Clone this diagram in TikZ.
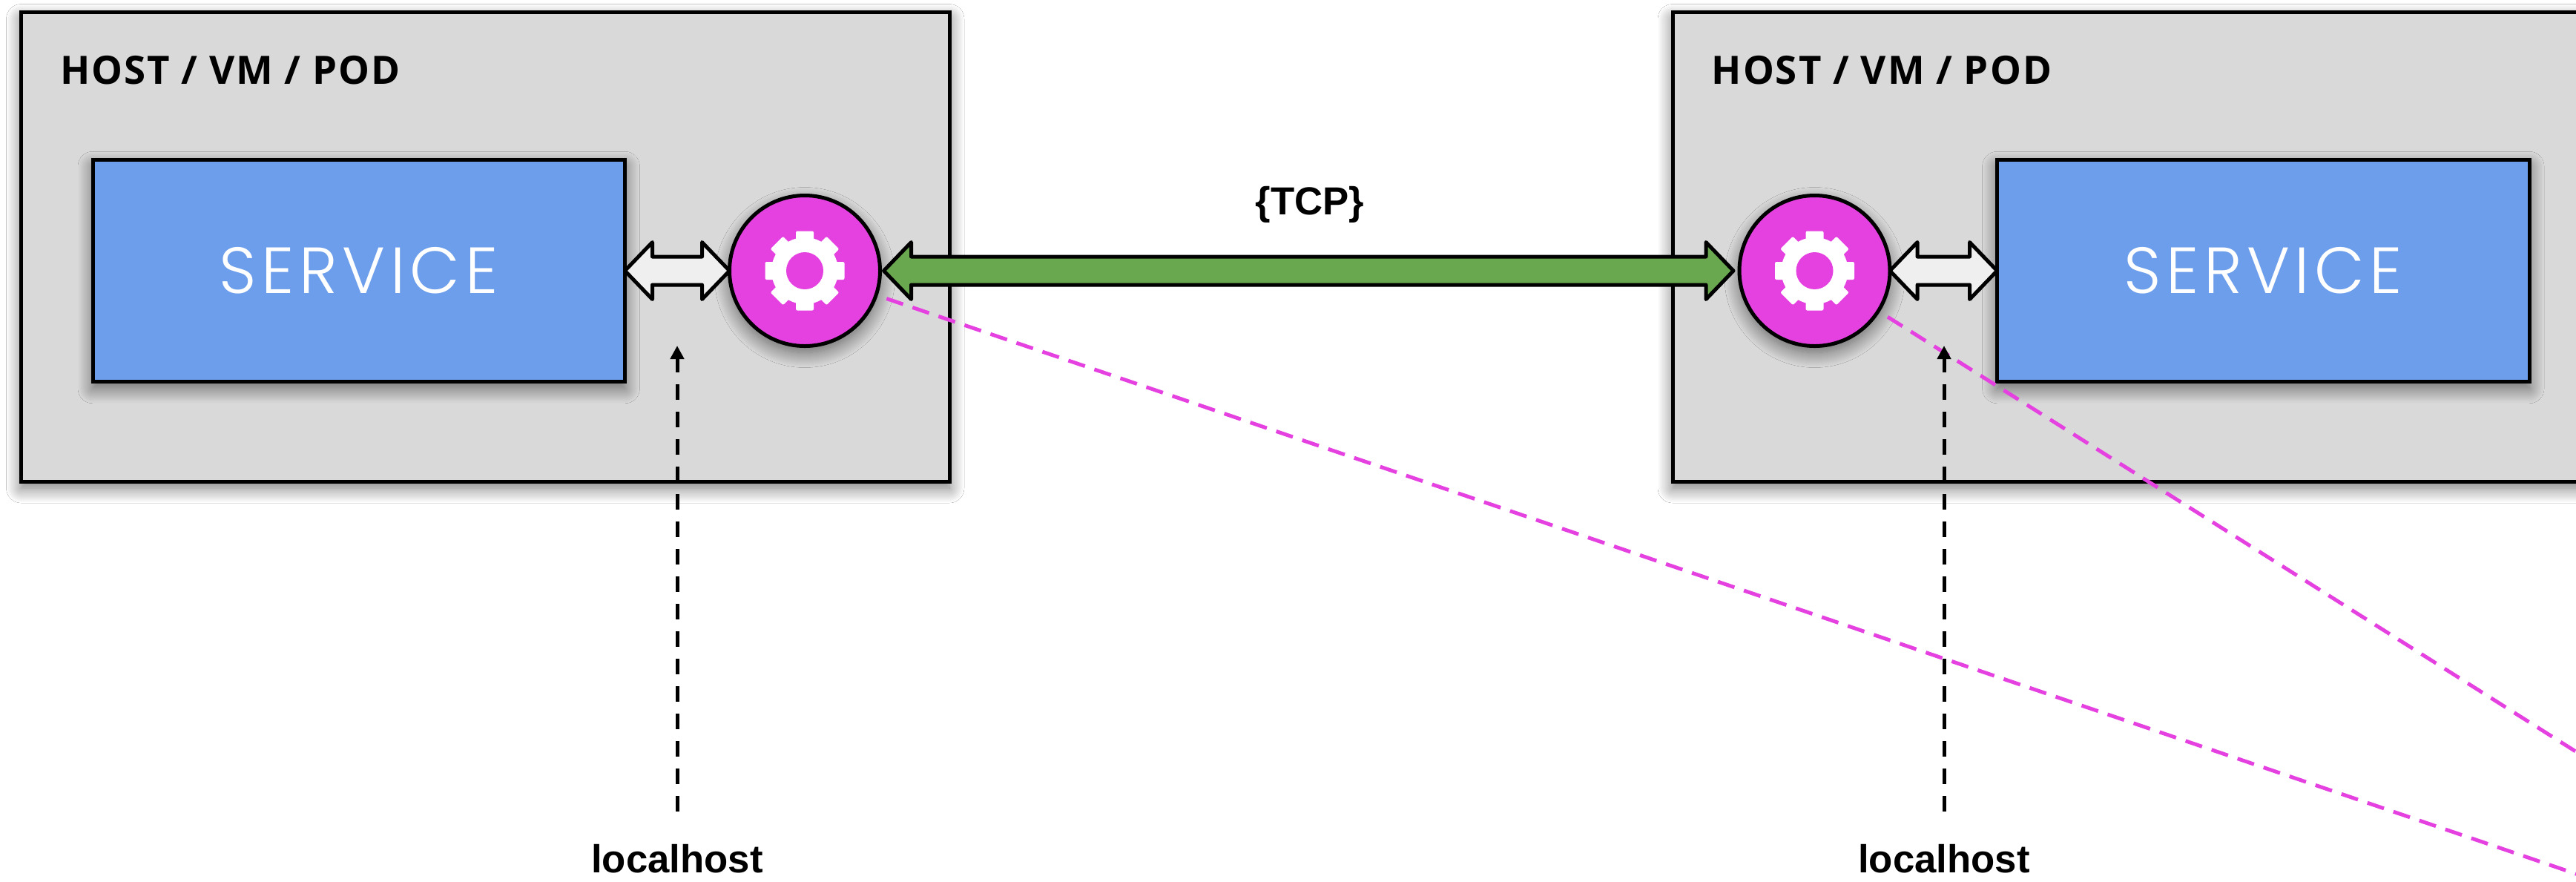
\documentclass[tikz,border=0pt]{standalone}
\usepackage{fontspec}
\setmainfont{Liberation Sans}
\newfontfamily\headfont[LetterSpace=3.8]{Open Sans}
\newfontfamily\thinfont[LetterSpace=7.5]{Poppins Light}
\usetikzlibrary{arrows.meta, positioning, calc, shadows.blur}

\definecolor{hostgray}{HTML}{D9D9D9}
\definecolor{svcblue}{HTML}{6D9EEB}
\definecolor{meshpink}{HTML}{E540E0}
\definecolor{wiregreen}{HTML}{6AA84F}
\definecolor{localwhite}{HTML}{EFEFEF}

\tikzset{
    softshadow/.style={blur shadow={shadow xshift=0cm, shadow yshift=-0.09cm,
        shadow blur radius=0.2cm, shadow opacity=55, shadow blur steps=20}},
    hostbox/.style={draw, line width=0.05cm, fill=hostgray, rectangle, outer sep=0pt,
        minimum width=12.515cm, minimum height=6.325cm, softshadow},
    svcbox/.style={draw, line width=0.05cm, fill=svcblue, rectangle, outer sep=0pt,
        minimum width=7.175cm, minimum height=2.995cm, softshadow,
        text=white, font=\thinfont\fontsize{25}{25}\selectfont},
    proxy/.style={draw, line width=0.05cm, fill=meshpink, circle, outer sep=0pt,
        inner sep=0pt, minimum size=2.03cm, softshadow},
    hostlabel/.style={inner sep=0pt, font=\headfont\bfseries\fontsize{15}{15}\selectfont},
    boldlabel/.style={inner sep=0pt, font=\bfseries\fontsize{15}{15}\selectfont},
    blockarrow/.style={draw, line width=0.05cm, line join=round, fill=#1,
        to path={let \p1=(\tikztostart), \p2=(\tikztotarget) in
            (\x1,\y1) -- ++(0.37,0.385) -- ++(0,-0.195) -- (\x2-0.37cm,\y1+0.19cm)
            -- ++(0,0.195) -- (\x2,\y1) -- ++(-0.37,-0.385) -- ++(0,0.195)
            -- (\x1+0.37cm,\y1-0.19cm) -- ++(0,-0.195) -- cycle}},
    probearrow/.style={line width=0.05cm, dash pattern=on 0.21cm off 0.16cm,
        shorten <=0.44cm, -{Triangle[width=0.18cm, length=0.18cm]}},
    meshlink/.style={meshpink, line width=0.05cm, dash pattern=on 0.235cm off 0.135cm,
        shorten <=0.15cm}
}

% white cog inside a proxy
\newcommand{\cogicon}[1]{
    \foreach \a in {0,45,...,315} {
        \fill[white, rounded corners=0.02cm, rotate around={\a:(#1)}]
            ($(#1)+(-0.12,0.4)$) rectangle ($(#1)+(0.12,0.535)$);
    }
    \fill[white] (#1) circle (0.45);
    \fill[meshpink] (#1) circle (0.25);
}

\begin{document}
\begin{tikzpicture}
\clip (0,0) rectangle (34.73,-11.88);
\fill[white] (0,0) rectangle (34.73,-11.88);

%-------------------------------
% 1) Hosts and services
%-------------------------------
\node[hostbox] (hostA) at (6.5425,-3.3275) {};
\node[hostbox, right=9.75cm of hostA] (hostB) {};

\node[hostlabel, below right=0.58cm and 0.52cm of hostA.north west] (hostlabelA) {HOST / VM / POD};
\node[hostlabel, below right=0.58cm and 0.52cm of hostB.north west] (hostlabelB) {HOST / VM / POD};

\node[svcbox, right=0.965cm of hostA.west, yshift=-0.3225cm] (serviceA) {SERVICE};

%-------------------------------
% 2) Proxies
%-------------------------------
\node[proxy, right=1.41cm of serviceA] (proxyA) {};
\node[proxy, right=11.585cm of proxyA] (proxyB) {};
\node[svcbox, right=1.445cm of proxyB] (serviceB) {SERVICE};
\cogicon{proxyA}
\cogicon{proxyB}

%-------------------------------
% 3) Links leaving the picture
%-------------------------------
\coordinate (sinkA) at (35.2,-11.94);
\coordinate (sinkB) at (35.2,-10.43);
\draw[meshlink] (proxyA) -- (sinkA);
\draw[meshlink] (proxyB) -- (sinkB);

%-------------------------------
% 4) Block arrows
%-------------------------------
\draw[blockarrow=localwhite] (serviceA.east) to (proxyA.west);
\draw[blockarrow=localwhite] (proxyB.east) to (serviceB.west);
\draw[blockarrow=wiregreen] ([xshift=0.05cm]proxyA.east) to ([xshift=-0.08cm]proxyB.west);
\coordinate (wiremid) at ($(proxyA.east)!0.5!(proxyB.west)$);
\node[boldlabel, above=0.64cm of wiremid] (wirelabel) {\{TCP\}};

%-------------------------------
% 5) localhost probes
%-------------------------------
\coordinate (tipA) at (9.13,-4.66);
\coordinate (tipB) at (26.21,-4.66);
\node[boldlabel, below=6.72cm of tipA] (localhostA) {localhost};
\node[boldlabel, below=6.72cm of tipB] (localhostB) {localhost};
\draw[probearrow] (localhostA) -- (tipA);
\draw[probearrow] (localhostB) -- (tipB);

\end{tikzpicture}
\end{document}
